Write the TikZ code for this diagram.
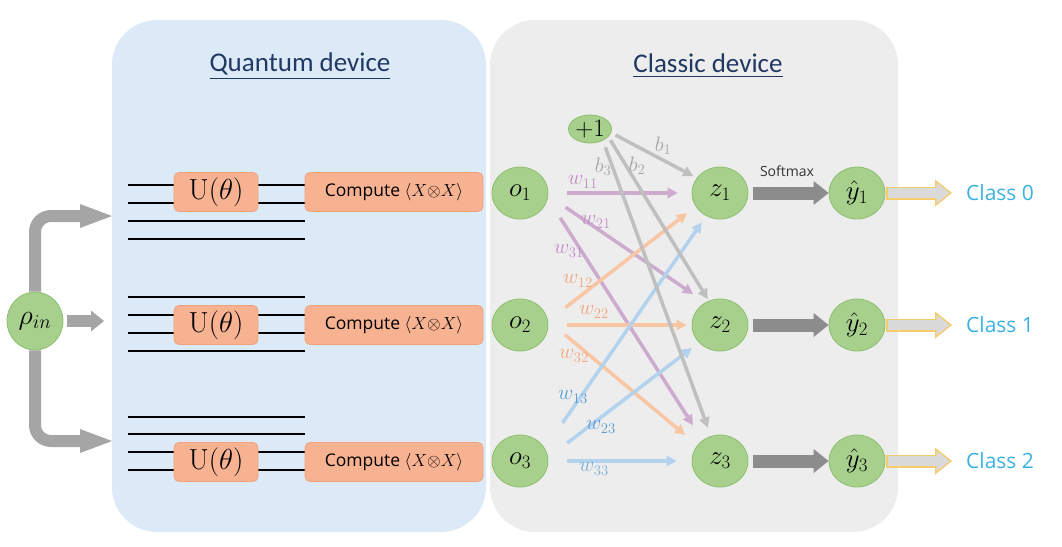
\RequirePackage{fix-cm}
\documentclass[tikz,border=0pt]{standalone}
\usepackage{amsmath}
\usepackage[no-math]{fontspec}
\setmainfont{Open Sans}
\newfontfamily\titlefont{Carlito}
\usetikzlibrary{arrows.meta,shapes.geometric}

\definecolor{qpanel}{HTML}{DCE9F6}
\definecolor{cpanel}{HTML}{EDEDED}
\definecolor{nodegreen}{HTML}{A8D08D}
\definecolor{nodeedge}{HTML}{8CBF6E}
\definecolor{gatefill}{HTML}{F7B292}
\definecolor{gateedge}{HTML}{F0A27A}
\definecolor{titleblue}{HTML}{203864}
\definecolor{classblue}{HTML}{3AB1E0}
\definecolor{wpurple}{HTML}{CDABCF}
\definecolor{worange}{HTML}{F8C6A3}
\definecolor{wblue}{HTML}{B2D2EE}
\definecolor{wgray}{HTML}{BFBFBF}
\definecolor{lpurple}{HTML}{C08DC4}
\definecolor{lorange}{HTML}{F3A579}
\definecolor{lblue}{HTML}{5B9BD5}
\definecolor{lgray}{HTML}{A6A6A6}
\definecolor{feedgray}{HTML}{A5A5A5}
\definecolor{softgray}{HTML}{8C8C8C}
\definecolor{outgold}{HTML}{F5CB6B}
\definecolor{outfill}{HTML}{DADADA}

\begin{document}
\begin{tikzpicture}[x=1pt,y=-1pt]
\tikzstyle{every node}+=[inner sep=0pt]
\tikzstyle{neuron}=[ellipse,draw=nodeedge,line width=0.8pt,fill=nodegreen,minimum width=56pt,minimum height=52pt,font=\fontsize{27}{30}\selectfont]
\tikzstyle{gate}=[rectangle,rounded corners=5pt,draw=gateedge,line width=0.8pt,fill=gatefill,minimum height=39pt]
\tikzstyle{ugate}=[gate,minimum width=84pt,font=\fontsize{29}{32}\selectfont]
\tikzstyle{mgate}=[gate,minimum width=178pt,font=\fontsize{17.5}{20}\selectfont]
\tikzstyle{wire}=[line width=1.8pt,black]
\tikzstyle{devtitle}=[font=\titlefont\fontsize{27}{30}\selectfont,text=titleblue]
\tikzstyle{wlabel}=[font=\fontsize{21}{24}\selectfont]
\tikzstyle{weight}=[line width=3.5pt,-{Triangle[width=11pt,length=10pt,line width=0pt]}]
\tikzstyle{feed}=[draw=feedgray,line width=12pt,rounded corners=16pt,-{Triangle[width=24pt,length=32pt,line width=0pt]}]
\tikzstyle{softarr}=[draw=softgray,line width=13pt,shorten <=5pt,-{Triangle[width=24pt,length=15pt,line width=0pt]}]
\tikzstyle{outback}=[draw=outgold,line width=13pt,shorten <=1pt,shorten >=14pt,-{Triangle[width=27pt,length=17pt,line width=0pt]}]
\tikzstyle{outfront}=[draw=outfill,line width=10pt,shorten <=2.5pt,shorten >=16.4pt,-{Triangle[width=21pt,length=13pt,line width=0pt]}]
\tikzstyle{classlabel}=[anchor=west,font=\fontsize{21}{24}\selectfont,text=classblue]
\useasboundingbox (0,0) rectangle (1062,546);
\fill[qpanel,rounded corners=45pt] (112,20) rectangle (486,532);
\fill[cpanel,rounded corners=45pt] (490,20) rectangle (898,532);
\node[devtitle] (qtitle) at (300,66) {\underline{Quantum device}};
\node[devtitle] (ctitle) at (708,66) {\underline{Classic device}};
\foreach \y in {185,203,221,239,297,315,333,351,417,434,452,470}
  \draw[wire] (128,\y) -- (305,\y);
\foreach \i/\y in {1/192,2/325,3/462} {
  \node[ugate] (u\i) at (216,\y) {$\mathrm{U}(\theta)$};
  \node[mgate] (m\i) at (394,\y) {Compute $\langle X{\otimes}X\rangle$};
}
\node[neuron,minimum height=58pt,font=\fontsize{28}{30}\selectfont] (rho) at (35,321) {$\rho_{in}$};
\coordinate (qin1) at (112,216);
\coordinate (qin2) at (104,321);
\coordinate (qin3) at (112,441);
\draw[feed] (rho.north) |- (qin1);
\draw[feed,shorten <=4pt,-{Triangle[width=21pt,length=13pt,line width=0pt]}] (rho.east) -- (qin2);
\draw[feed] (rho.south) |- (qin3);
\foreach \i/\y in {1/193,2/325,3/461} {
  \node[neuron] (o\i) at (520,\y) {$o_{\i}$};
  \node[neuron] (z\i) at (720,\y) {$z_{\i}$};
  \node[neuron] (y\i) at (857,\y) {$\hat{y}_{\i}$};
}
\node[neuron,minimum width=43pt,minimum height=28pt,font=\fontsize{25}{28}\selectfont] (bias) at (590,129) {$+1$};
\draw[weight,wpurple,shorten <=19pt,shorten >=14pt] (o1.east) -- (z1.west);
\draw[weight,wpurple,shorten <=21pt,shorten >=15pt] (o1.-5) -- (z2.123);
\draw[weight,wpurple,shorten <=23pt,shorten >=18pt] (o1.-11) -- (z3.130);
\draw[weight,worange,shorten <=22pt,shorten >=11pt] (o2.8) -- (z1.209);
\draw[weight,worange,shorten <=19pt,shorten >=5pt] (o2.east) -- (z2.west);
\draw[weight,worange,shorten <=22pt,shorten >=16pt] (o2.9) -- (z3.145);
\draw[weight,wblue,shorten <=31pt,shorten >=8pt] (o3.27) -- (z1.239);
\draw[weight,wblue,shorten <=24pt,shorten >=9pt] (o3.7) -- (z2.220);
\draw[weight,wblue,shorten <=19pt,shorten >=15pt] (o3.east) -- (z3.west);
\draw[weight,wgray,shorten <=5pt,shorten >=4pt] (bias.-10) -- (z1.147);
\draw[weight,wgray,shorten <=4pt,shorten >=2pt] (bias.-23) -- (z2.115);
\draw[weight,wgray,shorten <=7pt,shorten >=9pt] (bias.-42) -- (z3.110);
\node[wlabel,text=lpurple] (lw11) at (583,182) {$w_{11}$};
\node[wlabel,text=lpurple] (lw21) at (596,222) {$w_{21}$};
\node[wlabel,text=lpurple] (lw31) at (569,251) {$w_{31}$};
\node[wlabel,text=lorange] (lw12) at (578,281) {$w_{12}$};
\node[wlabel,text=lorange] (lw22) at (594,312) {$w_{22}$};
\node[wlabel,text=lorange] (lw32) at (574,356) {$w_{32}$};
\node[wlabel,text=lblue] (lw13) at (573,397) {$w_{13}$};
\node[wlabel,text=lblue] (lw23) at (601,427) {$w_{23}$};
\node[wlabel,text=lblue!80] (lw33) at (594,469) {$w_{33}$};
\node[wlabel,text=lgray] (lb1) at (663,146) {$b_1$};
\node[wlabel,text=lgray] (lb2) at (637,166) {$b_2$};
\node[wlabel,text=lgray] (lb3) at (603,167) {$b_3$};
\foreach \i in {1,2,3}
  \draw[softarr] (z\i) -- (y\i);
\node[font=\fontsize{14}{16}\selectfont,text=black!80] (smax) at (787,171) {Softmax};
\foreach \i/\y in {1/193,2/325,3/461} {
  \node[classlabel] (c\i) at (966,\y) {Class \the\numexpr\i-1\relax};
  \draw[outback] (y\i) -- (c\i);
  \draw[outfront] (y\i) -- (c\i);
}
\end{tikzpicture}
\end{document}
